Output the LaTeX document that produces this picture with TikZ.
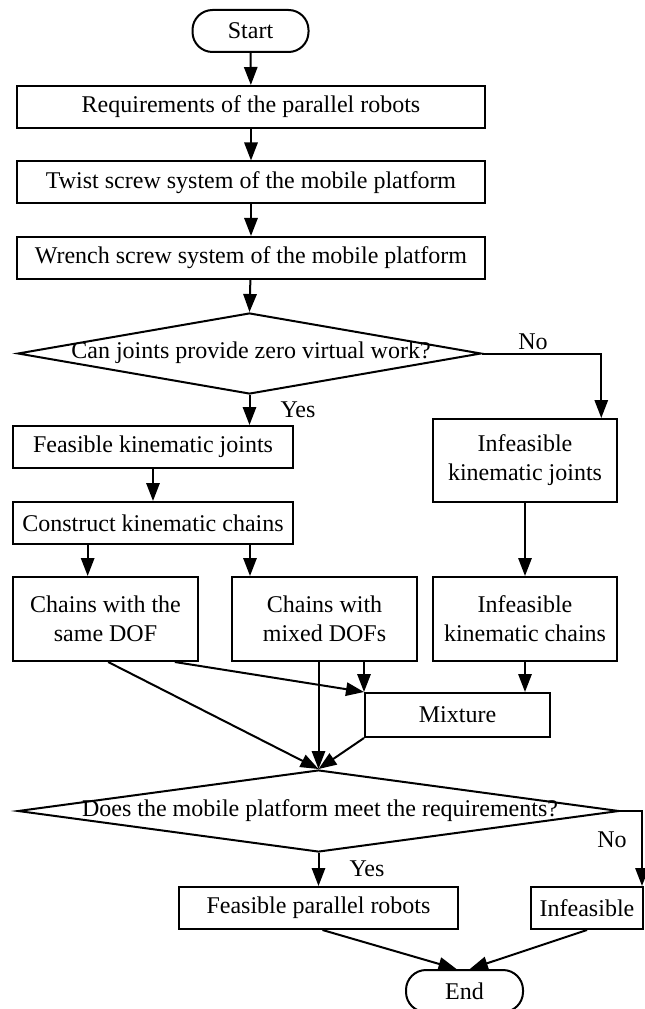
\documentclass[tikz,border=0pt]{standalone}
\usepackage{fontspec}
\setmainfont{Liberation Serif}
\usetikzlibrary{shapes.geometric,arrows.meta,calc}

\begin{document}
\begin{tikzpicture}[x=0.75pt,y=-0.75pt,
  line width=1.5pt,
  every node/.style={font=\fontsize{18}{21.75}\selectfont},
  box/.style={draw, rectangle, inner sep=0pt, align=center},
  term/.style={draw, rectangle, rounded corners=15pt, inner sep=0pt},
  dec/.style={draw, diamond, inner sep=0pt},
  lbl/.style={inner sep=0pt},
  arr/.style={-{Triangle[length=13.5pt,width=10pt]}},
]
\useasboundingbox (0,0) rectangle (645,1009);

% terminals and process boxes
\node[term, minimum width=87pt, minimum height=31.5pt] (start) at (250.5,31) {Start};
\node[box, minimum width=351pt, minimum height=31.5pt] (req) at (251,107) {Requirements of the parallel robots};
\node[box, minimum width=351pt, minimum height=31.5pt] (twist) at (251,182.5) {Twist screw system of the mobile platform};
\node[box, minimum width=351pt, minimum height=31.5pt] (wrench) at (251,258) {Wrench screw system of the mobile platform};

% first decision
\node[dec, minimum width=347.6pt, minimum height=60.75pt] (dia1) at (249.5,353.5) {};
\node[lbl] (q1) at (251,353) {Can joints provide zero virtual work?};
\node[lbl] (no1) at (533,342) {No};
\node[lbl] (yes1) at (298,410) {Yes};

\node[box, minimum width=210pt, minimum height=31.5pt] (feasJ) at (153,447) {Feasible kinematic joints};
\node[box, minimum width=210pt, minimum height=31.5pt] (construct) at (153,523) {Construct kinematic chains};
\node[box, minimum width=138.4pt, minimum height=62.25pt] (infJ) at (525,460.5) {Infeasible\\kinematic joints};

\node[box, minimum width=138.75pt, minimum height=63pt] (same) at (105.5,619) {Chains with the\\same DOF};
\node[box, minimum width=138.75pt, minimum height=63pt] (mixed) at (324.5,619) {Chains with\\mixed DOFs};
\node[box, minimum width=138.4pt, minimum height=63pt] (infC) at (525,619) {Infeasible\\kinematic chains};
\node[box, minimum width=138.75pt, minimum height=33pt] (mix) at (457.5,715) {Mixture};

% second decision
\node[dec, minimum width=451pt, minimum height=61.5pt] (dia2) at (318.5,811) {};
\node[lbl] (q2) at (320,811) {Does the mobile platform meet the requirements?};
\node[lbl] (no2) at (612,840) {No};
\node[lbl] (yes2) at (367,869) {Yes};

\node[box, minimum width=209.25pt, minimum height=31.5pt] (feasR) at (318.5,908) {Feasible parallel robots};
\node[box, minimum width=84pt, minimum height=31.5pt] (infeas) at (587,908) {Infeasible};
\node[term, minimum width=87.75pt, minimum height=31.5pt] (end) at (464.5,991) {End};

% connectors
\draw[arr] (start) -- (req);
\draw[arr] (req) -- (twist);
\draw[arr] (twist) -- (wrench);
\draw[arr] (wrench) -- (dia1.north);
\draw[arr] (dia1.south) -- (dia1.south |- feasJ.north);
\draw[arr] (dia1.east) -| ([xshift=-12.75pt]infJ.north east);
\draw[arr] (feasJ) -- (construct);
\draw[arr] ([xshift=-49pt]construct.south) -- ([xshift=-49pt]construct.south |- same.north);
\draw[arr] ([xshift=72.75pt]construct.south) -- ([xshift=72.75pt]construct.south |- mixed.north);
\draw[arr] (infJ) -- (infC);

\draw[arr] ([xshift=2pt]same.south) -- (dia2.north);
\draw[arr] ([xshift=52pt]same.south) -- (mix.north west);
\draw[arr] (dia2.north |- mixed.south) -- (dia2.north);
\draw[arr] (mix.north west |- mixed.south) -- (mix.north west);
\draw[arr] (infC.south) -- (infC.south |- mix.north);
\draw[arr] (mix.south west) -- (dia2.north);

\draw[arr] (dia2.south) -- (dia2.south |- feasR.north);
\draw[arr] (dia2.east) -| ([xshift=-1.5pt]infeas.north east);
\draw[arr] ([xshift=3pt]feasR.south) -- ([xshift=-6pt]end.north);
\draw[arr] (infeas.south) -- ([xshift=4pt]end.north);
\end{tikzpicture}
\end{document}
